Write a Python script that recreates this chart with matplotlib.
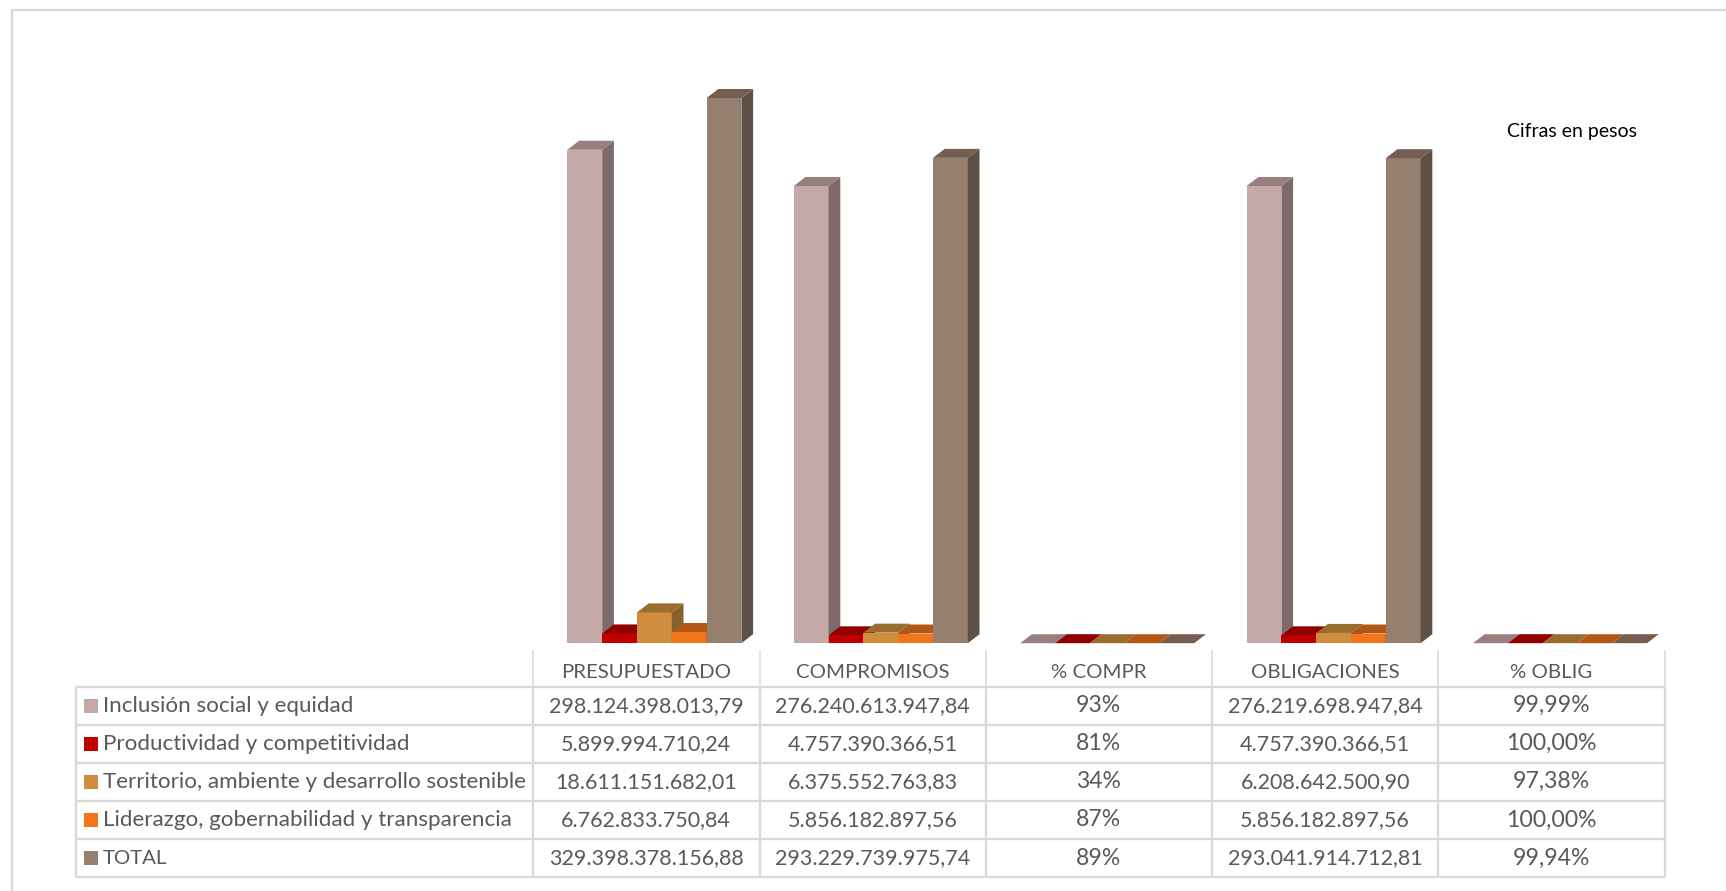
import matplotlib
matplotlib.use("Agg")
import matplotlib.pyplot as plt
from matplotlib.patches import Rectangle

W, H = 1726, 891

categories = ["PRESUPUESTADO", "COMPROMISOS", "% COMPR", "OBLIGACIONES", "% OBLIG"]
series_names = ["Inclusión social y equidad", "Productividad y competitividad",
                "Territorio, ambiente y desarrollo sostenible",
                "Liderazgo, gobernabilidad y transparencia", "TOTAL"]

inclusion = [298124398013.79, 276240613947.84, 0.93, 276219698947.84, 0.9999]
productividad = [5899994710.24, 4757390366.51, 0.81, 4757390366.51, 1.0]
territorio = [18611151682.01, 6375552763.83, 0.34, 6208642500.90, 0.9738]
liderazgo = [6762833750.84, 5856182897.56, 0.87, 5856182897.56, 1.0]
total = [329398378156.88, 293229739975.74, 0.89, 293041914712.81, 0.9994]
series_values = [inclusion, productividad, territorio, liderazgo, total]

table_text = [
    ["298.124.398.013,79", "276.240.613.947,84", "93%", "276.219.698.947,84", "99,99%"],
    ["5.899.994.710,24", "4.757.390.366,51", "81%", "4.757.390.366,51", "100,00%"],
    ["18.611.151.682,01", "6.375.552.763,83", "34%", "6.208.642.500,90", "97,38%"],
    ["6.762.833.750,84", "5.856.182.897,56", "87%", "5.856.182.897,56", "100,00%"],
    ["329.398.378.156,88", "293.229.739.975,74", "89%", "293.041.914.712,81", "99,94%"],
]

front = ["#C5A8A8", "#C00000", "#CE8E3E", "#F0751B", "#957F6F"]
top = ["#977F7F", "#900000", "#9A6C2E", "#B35812", "#725F52"]
side = ["#7E6A6A", "#700000", "#85602A", "#8F4A10", "#5F5045"]

plt.rcParams["font.family"] = ["Lato", "DejaVu Sans"]
fig = plt.figure(figsize=(W / 100, H / 100), dpi=100, facecolor="white")

# Overlay in pixel coordinates for the frame and the data table
chrome = fig.add_axes([0, 0, 1, 1])
chrome.set_xlim(0, W)
chrome.set_ylim(H, 0)
chrome.axis("off")

GRID = "#D9D9D9"
chrome.plot([12, 12], [10, H], color=GRID, lw=1.6)
chrome.plot([12, W], [10, 10], color=GRID, lw=1.6)

col_x = [532.7, 759.5, 985.6, 1212, 1438.3, 1664.5]
row_y = [686.7, 724.7, 762.7, 800.7, 839.3, 877.3]
left_x = 75.5
for x in col_x:
    chrome.plot([x, x], [650, 686.7], color=GRID, lw=1.1, solid_capstyle="butt")
    chrome.plot([x, x], [686.7, row_y[-1]], color=GRID, lw=1.7, solid_capstyle="butt")
chrome.plot([left_x, left_x], [row_y[0], row_y[-1]], color=GRID, lw=1.7, solid_capstyle="butt")
for y in row_y:
    chrome.plot([left_x, col_x[-1]], [y, y], color=GRID, lw=1.7, solid_capstyle="butt")

TXT = "#595959"
FS_HEAD, FS_LABEL, FS_NUM, FS_PCT = 14.7, 16.1, 15.5, 16.6
for c, name in enumerate(categories):
    cx = (col_x[c] + col_x[c + 1]) / 2
    chrome.text(cx, 673, name, ha="center", va="center", fontsize=FS_HEAD, color=TXT)
for r, name in enumerate(series_names):
    cy = (row_y[r] + row_y[r + 1]) / 2
    chrome.add_patch(Rectangle((84, cy - 7), 14, 14, facecolor=front[r], edgecolor="none"))
    chrome.text(103, cy, name, ha="left", va="center",
                fontsize=FS_HEAD if name == "TOTAL" else FS_LABEL, color=TXT)
    for c, value in enumerate(table_text[r]):
        cx = (col_x[c] + col_x[c + 1]) / 2
        chrome.text(cx, cy, value, ha="center", va="center",
                    fontsize=FS_PCT if value.endswith("%") else FS_NUM, color=TXT)
chrome.text(1572, 132, "Cifras en pesos", ha="center", va="center", fontsize=14, color="black")

# Bar chart axes: one x unit = one category, y in pesos
PX_PER_CAT = 226.4
PX_PER_UNIT = 545.2 / 329398378156.88
BASE_PX, TOP_PX = 643.2, 20
CENTER0_PX = 654.4
AX_L, AX_R = 532.0, 1665.0
ax = fig.add_axes([AX_L / W, 1 - BASE_PX / H, (AX_R - AX_L) / W, (BASE_PX - TOP_PX) / H])
ax.set_xlim((AX_L - CENTER0_PX) / PX_PER_CAT, (AX_R - CENTER0_PX) / PX_PER_CAT)
ax.set_ylim(0, (BASE_PX - TOP_PX) / PX_PER_UNIT)
ax.axis("off")
ax.patch.set_alpha(0)

BAR_W = 34.8 / PX_PER_CAT
DX = 11.7 / PX_PER_CAT
DY = 9.0 / PX_PER_UNIT
for c in range(len(categories)):
    for s, values in enumerate(series_values):
        v = values[c]
        x0 = c + (s - 2.5) * BAR_W
        x1 = x0 + BAR_W
        z = 2 + c * 10 + s
        ax.bar(x0, v, BAR_W, align="edge", color=front[s], linewidth=0, zorder=z, clip_on=False)
        ax.fill([x1, x1 + DX, x1 + DX, x1], [0, DY, v + DY, v], color=side[s], lw=0, zorder=z, clip_on=False)
        ax.fill([x0, x0 + DX, x1 + DX, x1], [v, v + DY, v + DY, v], color=top[s], lw=0, zorder=z, clip_on=False)

fig.savefig("out.png", dpi=100, facecolor="white")
